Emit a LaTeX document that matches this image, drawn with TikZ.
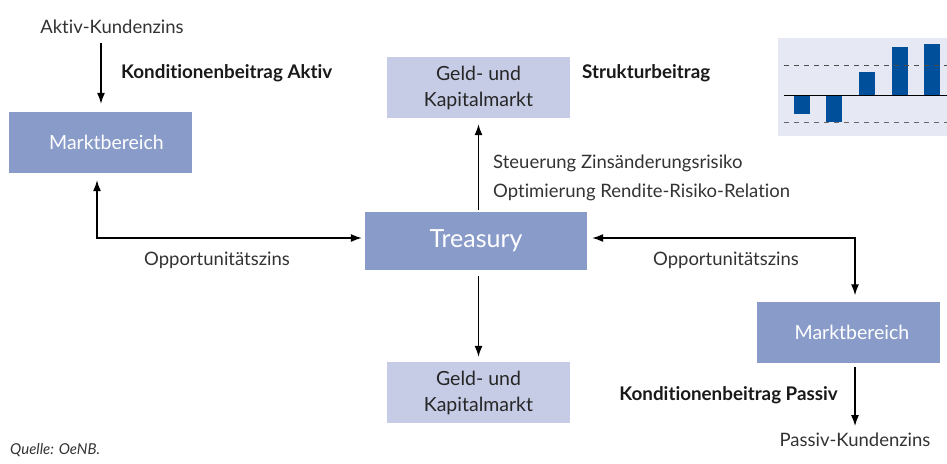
\documentclass[tikz,border=0pt]{standalone}
\usepackage{fontspec}
\setmainfont{Lato}
\usetikzlibrary{arrows.meta,calc}
\definecolor{boxdark}{HTML}{889BC9}
\definecolor{boxlight}{HTML}{C6CCE5}
\definecolor{chartbg}{HTML}{E6E9F3}
\definecolor{barblue}{HTML}{004F9A}
\definecolor{txt}{HTML}{333333}
\newcommand{\nolig}{\kern0pt }
\tikzset{
  darkbox/.style={fill=boxdark, text=white, minimum width=183pt, minimum height=61pt, inner sep=0pt, font=\fontsize{19.5}{22}\selectfont},
  lightbox/.style={fill=boxlight, text=black!85, minimum width=183pt, minimum height=61pt, inner sep=0pt, align=center, font=\fontsize{19.5}{26}\selectfont},
  plain/.style={text=txt, inner sep=0pt, font=\fontsize{18.5}{22}\selectfont},
  boldlbl/.style={text=black!90, inner sep=0pt, font=\fontsize{18.8}{22}\selectfont\bfseries},
  conn/.style={draw=black, line width=1.3pt, -{Latex[length=11pt,width=8pt]}},
  dconn/.style={draw=black, line width=1.3pt, {Latex[length=11pt,width=8pt]}-{Latex[length=11pt,width=8pt]}},
}
\begin{document}
\begin{tikzpicture}[x=1pt,y=-1pt]
\useasboundingbox (0,0) rectangle (947,463);
\fill[white] (0,0) rectangle (947,463);
% boxes
\node[darkbox] (mleft) at (100.5,142.5) {\hspace*{12pt}Marktbereich};
\node[lightbox] (gtop) at (478.5,87.5) {Geld- und\\Kapitalmarkt};
\node[darkbox, minimum width=222pt, minimum height=58pt, font=\fontsize{25}{30}\selectfont] (treas) at (476,241) {Treasury};
\node[lightbox] (gbot) at (478.5,392.5) {Geld- und\\Kapitalmarkt};
\node[darkbox] (mright) at (848.5,332) {\hspace*{7pt}Marktbereich};
% texts
\node[plain] (aktivkz) at (112,27) {Akt\nolig iv-Kundenzins};
\node[boldlbl, anchor=west] (kaktiv) at (121,73) {Kondit\nolig ionenbeitrag Akt\nolig iv};
\node[boldlbl, anchor=west] (struk) at (582,73) {Strukturbeitrag};
\node[plain, anchor=west] (steu) at (493,163) {Steuerung Zinsänderungsrisiko};
\node[plain, anchor=west] (opti) at (493,192) {Opt\nolig imierung Rendite-Risiko-Relat\nolig ion};
\node[plain] (oppl) at (217,260) {Opportunitätszins};
\node[plain] (oppr) at (726,260) {Opportunitätszins};
\node[boldlbl, anchor=east] (kpassiv) at (838,395) {Kondit\nolig ionenbeitrag Passiv};
\node[plain] (passivkz) at (855,440) {Passiv-Kundenzins};
\node[plain, anchor=west, font=\fontsize{15}{18}\selectfont\itshape] (quelle) at (10,450) {Quelle: OeNB.};
% connectors
\coordinate (lc) at (97,238);
\coordinate (rc) at (855,238);
\coordinate (topa) at (101,43);
\draw[conn] (topa) -- ($(mleft.north -| topa)+(0,-8)$);
\draw[dconn] ($(mleft.south -| lc)+(0,7)$) -- (lc) -- ($(lc -| treas.west)+(-3,0)$);
\draw[dconn] ($(rc -| treas.east)+(5,0)$) -- (rc) -- ($(mright.north -| rc)+(0,-6)$);
\draw[conn] ($(treas.north -| gtop.south)+(0,-2)$) -- ($(gtop.south)+(0,6)$);
\draw[conn] ($(treas.south -| gbot.north)+(0,6)$) -- ($(gbot.north)+(0,-5)$);
\coordinate (pend) at (855,426);
\draw[conn] ($(mright.south -| rc)+(0,4)$) -- (pend);
% chart
\fill[chartbg] (778,38) rectangle (947,136);
\fill[barblue] (794,95) rectangle (810,114);
\fill[barblue] (826,95) rectangle (842,122);
\fill[barblue] (859,72) rectangle (875,95);
\fill[barblue] (892,47) rectangle (908,95);
\fill[barblue] (924,44) rectangle (940,95);
\draw[black!70, line width=1pt, dash pattern=on 5pt off 5pt] (784,65.3) -- (947,65.3);
\draw[black!60, line width=1pt, dash pattern=on 5pt off 5pt] (784,122.7) -- (947,122.7);
\draw[black, line width=1pt] (784,95.3) -- (947,95.3);
\end{tikzpicture}
\end{document}
